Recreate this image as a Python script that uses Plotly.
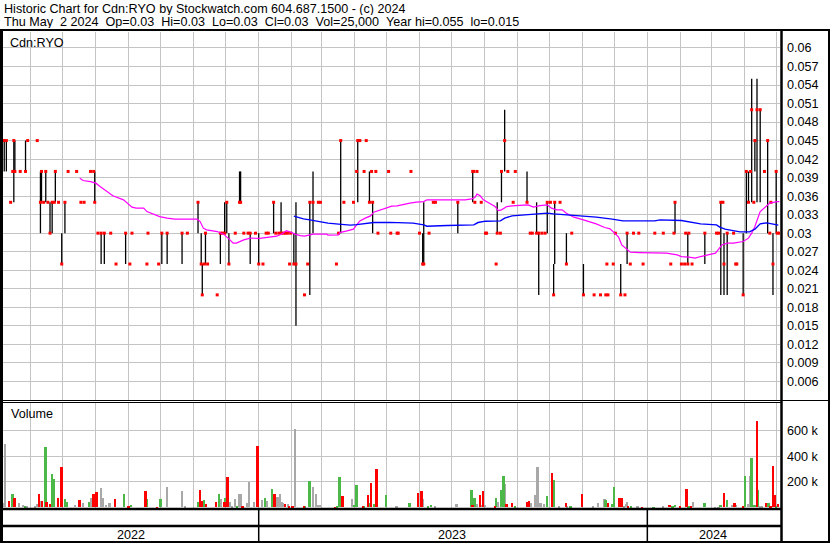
import plotly.graph_objects as go
import pandas as pd

# ---------------- data ----------------
BASE = pd.Timestamp("2022-05-01")   # day offsets below are days after this date

day = [4, 6, 8, 12, 14, 15, 16, 21, 26, 28, 37, 40, 41, 43, 45, 47, 49, 51, 53, 54,
       57, 60, 63, 66, 74, 78, 81, 87, 90, 91, 94, 97, 100, 106, 111, 120, 124, 126, 140, 141,
       151, 154, 159, 173, 178, 188, 191, 192, 194, 195, 197, 206, 209, 211, 213, 215, 217, 223, 227, 228,
       231, 235, 237, 242, 245, 249, 252, 254, 259, 261, 264, 266, 268, 270, 272, 274, 275, 278, 280, 288,
       291, 293, 296, 301, 303, 318, 320, 322, 325, 334, 337, 338, 340, 344, 346, 349, 351, 352, 355, 357,
       367, 369, 375, 376, 388, 396, 399, 400, 405, 409, 411, 432, 446, 447, 448, 450, 454, 458, 459, 468,
       469, 472, 473, 476, 479, 484, 486, 497, 500, 502, 506, 508, 511, 514, 516, 519, 522, 523, 528, 534,
       539, 550, 560, 566, 571, 572, 573, 578, 580, 585, 589, 591, 594, 597, 602, 606, 617, 625, 632, 635,
       636, 642, 645, 646, 648, 649, 652, 664, 675, 677, 679, 681, 682, 685, 691, 693, 694, 700, 703, 705,
       707, 708, 710, 711, 713, 716, 720, 723, 725, 726, 728, 731, 732, 734]
high = [.045, .045, .045, .035, .04, .045, .045, .04, .045, .045, .045, .04, .04, .035, .04, .035, .035, .035, .035, .04,
        .035, .03, .035, .04, .04, .035, .035, .04, .04, .04, .03, .03, .03, .03, .025, .03, .025, .03, .025, .03,
        .025, .03, .03, .03, .03, .035, .03, .025, .025, .03, .025, .02, .03, .03, .035, .035, .03, .03, .04, .04,
        .03, .03, .03, .03, .03, .025, .03, .03, .035, .03, .03, .035, .03, .03, .03, .025, .03, .03, .035, .02,
        .025, .035, .04, .035, .035, .025, .03, .045, .035, .035, .04, .045, .045, .04, .045, .04, .04, .035, .04, .03,
        .04, .03, .03, .03, .04, .03, .03, .035, .03, .035, .035, .035, .04, .04, .035, .04, .035, .03, .03, .025,
        .035, .03, .04, .05, .04, .035, .04, .04, .03, .03, .035, .03, .03, .03, .035, .035, .025, .035, .035, .03,
        .03, .025, .02, .02, .02, .025, .02, .025, .03, .025, .02, .03, .025, .03, .03, .025, .03, .03, .025, .03,
        .035, .025, .025, .03, .03, .03, .025, .03, .03, .03, .035, .035, .03, .03, .03, .025, .025, .03, .04, .04,
        .04, .055, .035, .045, .055, .05, .04, .045, .03, .035, .03, .04, .03, .03]
low = [.045, .04, .04, .035, .04, .035, .04, .04, .04, .045, .045, .03, .035, .035, .035, .035, .03, .03, .035, .035,
       .035, .025, .03, .04, .04, .035, .035, .04, .04, .035, .03, .025, .025, .03, .025, .025, .025, .03, .025, .03,
       .025, .025, .025, .025, .03, .03, .025, .02, .025, .025, .025, .02, .025, .03, .03, .03, .025, .03, .035, .035,
       .03, .03, .025, .03, .025, .025, .03, .03, .03, .03, .03, .03, .03, .03, .03, .025, .03, .025, .015, .02,
       .025, .02, .03, .035, .035, .025, .03, .03, .035, .035, .04, .035, .045, .04, .045, .035, .04, .03, .04, .03,
       .04, .03, .03, .03, .04, .03, .025, .025, .03, .035, .035, .03, .035, .04, .035, .04, .035, .03, .03, .025,
       .03, .03, .035, .04, .04, .035, .04, .035, .03, .03, .03, .02, .03, .03, .03, .035, .02, .025, .035, .025,
       .03, .02, .02, .02, .02, .025, .02, .025, .03, .02, .02, .025, .025, .03, .03, .025, .03, .03, .025, .03,
       .03, .025, .025, .03, .025, .03, .025, .025, .03, .03, .02, .035, .02, .02, .03, .025, .025, .02, .03, .035,
       .04, .035, .035, .04, .035, .035, .04, .03, .03, .035, .02, .03, .03, .03]
close = [.045, .045, .045, .035, .04, .045, .04, .04, .04, .045, .045, .035, .04, .035, .04, .035, .03, .035, .035, .04,
         .035, .025, .035, .04, .04, .035, .035, .04, .04, .035, .03, .03, .03, .03, .025, .03, .025, .03, .025, .03,
         .025, .03, .03, .03, .03, .035, .025, .02, .025, .03, .025, .02, .03, .03, .03, .035, .025, .03, .035, .035,
         .03, .03, .03, .03, .025, .025, .03, .03, .035, .03, .03, .03, .03, .03, .03, .025, .03, .025, .025, .02,
         .025, .035, .035, .035, .035, .025, .03, .045, .035, .035, .04, .045, .045, .04, .045, .035, .04, .035, .04, .03,
         .04, .03, .03, .03, .04, .03, .025, .025, .03, .035, .035, .035, .04, .04, .035, .04, .035, .03, .03, .025,
         .03, .03, .04, .045, .04, .035, .04, .035, .03, .03, .03, .03, .03, .03, .035, .035, .02, .035, .035, .025,
         .03, .02, .02, .02, .02, .025, .02, .025, .03, .02, .02, .03, .025, .03, .03, .025, .03, .03, .025, .03,
         .035, .025, .025, .03, .025, .03, .025, .03, .03, .03, .035, .035, .025, .03, .03, .025, .025, .02, .04, .035,
         .04, .05, .035, .045, .05, .05, .04, .045, .03, .035, .025, .04, .03, .03]

ma50_day = [77, 80, 87, 92, 96, 102, 108, 118, 124, 126, 130, 137, 140, 146, 152, 159, 166, 187, 190, 193,
            196, 206, 212, 218, 221, 224, 231, 237, 246, 253, 262, 267, 271, 276, 279, 284, 288, 293, 296, 309,
            310, 320, 321, 328, 334, 337, 340, 345, 350, 353, 359, 365, 370, 375, 381, 387, 393, 400, 403, 439,
            445, 448, 450, 453, 456, 462, 467, 470, 473, 478, 483, 494, 498, 503, 509, 516, 520, 525, 530, 534,
            541, 550, 562, 570, 575, 580, 583, 586, 591, 594, 603, 617, 628, 638, 642, 649, 655, 660, 667, 674,
            677, 680, 685, 691, 700, 705, 708, 711, 716, 721, 725, 732, 734]
ma50_val = [.0389, .03853, .03836, .0381, .03755, .03686, .03605, .0354, .03459, .03421, .03405, .03405, .0335, .03308, .03269, .03243, .03227, .03227, .03188, .03081,
            .03053, .03026, .02984, .02891, .02838, .02838, .02891, .02919, .02916, .02932, .02951, .02989, .03042, .0301, .02984, .02961, .02951, .02972, .02984, .02984,
            .02968, .02972, .0301, .03037, .03065, .03135, .03199, .03243, .0328, .0334, .03378, .03405, .03438, .03442, .0347, .03486, .03502, .03512, .0354, .0354,
            .03556, .03577, .03632, .03605, .0354, .03486, .03431, .03366, .03378, .03431, .03442, .03454, .03459, .03421, .03447, .03459, .03405, .03378, .03378, .03324,
            .03259, .03216, .03151, .03091, .0307, .02989, .02935, .0281, .02741, .02692, .02686, .02676, .02676, .02648, .02621, .02611, .02595, .02621, .02648, .02676,
            .02741, .0281, .02838, .02838, .02864, .02919, .03, .03107, .0335, .03431, .03486, .03512, .03512]

ma200_day = [278, 282, 287, 293, 303, 310, 320, 331, 337, 346, 353, 368, 390, 400, 403, 422, 447, 451, 458, 472,
             476, 483, 495, 500, 516, 522, 534, 545, 562, 577, 587, 617, 622, 642, 653, 660, 675, 678, 683, 692,
             697, 706, 711, 716, 722, 727, 733]
ma200_val = [.03276, .03253, .03232, .03216, .03178, .03162, .03146, .0313, .03139, .03162, .03172, .03175, .03162, .03135, .03113, .03123, .03135, .03172, .03194, .03199,
             .03243, .0328, .03297, .03313, .03324, .03313, .03297, .0328, .03259, .03227, .03199, .03199, .03216, .03204, .03172, .03151, .03135, .03097, .03065, .03042,
             .03021, .03021, .03065, .03151, .03167, .03151, .0313]

vol_day = [4, 5, 7, 11, 14, 16, 20, 24, 26, 27, 35, 37, 39, 40, 42, 45, 46, 49, 51, 53,
           57, 60, 63, 65, 73, 77, 80, 86, 88, 90, 93, 97, 99, 102, 105, 110, 119, 123, 125, 139,
           140, 150, 153, 159, 173, 176, 188, 190, 192, 194, 196, 205, 208, 210, 213, 214, 216, 218, 220, 223,
           225, 227, 228, 230, 234, 236, 241, 244, 248, 251, 253, 258, 260, 263, 265, 267, 268, 270, 273, 274,
           277, 279, 288, 289, 293, 296, 299, 301, 303, 317, 319, 321, 324, 333, 335, 337, 343, 344, 348, 349,
           351, 354, 356, 365, 374, 375, 387, 395, 398, 399, 404, 407, 411, 431, 445, 446, 448, 450, 453, 454,
           456, 458, 467, 468, 470, 473, 474, 475, 476, 478, 483, 486, 497, 499, 501, 505, 507, 510, 513, 516,
           521, 522, 527, 534, 535, 538, 549, 559, 564, 570, 571, 573, 577, 579, 584, 586, 588, 590, 591, 592,
           595, 601, 605, 616, 625, 631, 634, 636, 641, 647, 649, 651, 653, 664, 674, 677, 679, 682, 685, 690,
           692, 693, 700, 702, 705, 707, 708, 711, 713, 714, 716, 718, 722, 724, 726, 728, 730, 731, 733]
vol_k = [118, 34, 497, 50, 105, 76, 39, 18, 5, 5, 10, 26, 105, 50, 50, 473, 42, 26, 261, 222,
         76, 316, 65, 42, 18, 58, 34, 42, 76, 105, 120, 152, 73, 21, 39, 65, 105, 5, 18, 128,
         65, 3, 65, 159, 128, 10, 42, 136, 50, 58, 26, 42, 105, 65, 42, 76, 238, 42, 10, 65,
         5, 105, 105, 5, 34, 199, 42, 481, 58, 73, 50, 144, 105, 81, 105, 44, 34, 26, 26, 13,
         10, 614, 5, 5, 207, 159, 105, 18, 18, 3, 10, 238, 89, 65, 18, 175, 10, 5, 97, 34,
         191, 26, 301, 97, 5, 5, 34, 113, 128, 65, 10, 18, 10, 26, 136, 18, 73, 26, 97, 18,
         128, 18, 5, 73, 42, 136, 26, 246, 183, 26, 34, 5, 42, 50, 34, 97, 316, 34, 26, 89,
         269, 214, 5, 34, 5, 10, 105, 10, 34, 65, 58, 34, 26, 159, 73, 73, 5, 26, 42, 13,
         5, 10, 3, 3, 10, 18, 10, 18, 10, 144, 5, 5, 42, 34, 3, 3, 18, 113, 58, 18,
         34, 18, 10, 246, 26, 248, 387, 18, 677, 136, 5, 10, 34, 34, 5, 324, 97, 5, 26]
vol_move = ("kkkrgrkkgkkkrkrgrrgg"
            "rrggkrkgkrrkkkkrgrgr"
            "grgkkkgrrgrrgkrgrkkk"
            "gkkrkkkrkgkgrkkkkrkr"
            "rkrggkkkkrggrkggrgrg"
            "rgrgkkgrrkggkkgrgkrk"
            "rkrgkgkgkrrgrrkkkkkg"
            "rgkrkgrkkkgrggrrkkkr"
            "gkrgkrggrrgrkgkkgrgk"
            "rkrgkkggrgkkrgrrrgrk")

price_tick_vals = [0.06, 0.057, 0.054, 0.051, 0.048, 0.045, 0.042, 0.039, 0.036, 0.033,
                   0.03, 0.027, 0.024, 0.021, 0.018, 0.015, 0.012, 0.009, 0.006]
price_tick_text = ["0.06", "0.057", "0.054", "0.051", "0.048", "0.045", "0.042", "0.039", "0.036", "0.033",
                   "0.03", "0.027", "0.024", "0.021", "0.018", "0.015", "0.012", "0.009", "0.006"]
vol_tick_vals = [200000, 400000, 600000]
vol_tick_text = ["200 k", "400 k", "600 k"]
years = ["2022", "2023", "2024"]
year_centres = ["2022-09-03", "2023-07-02", "2024-03-03"]
year_breaks = ["2023-01-01", "2024-01-01"]

title1 = "Historic Chart for Cdn:RYO by Stockwatch.com 604.687.1500 - (c) 2024"
title2 = ("Thu May\u00a0\u00a02 2024\u00a0\u00a0Op=0.03\u00a0\u00a0Hi=0.03\u00a0\u00a0Lo=0.03\u00a0\u00a0"
          "Cl=0.03\u00a0\u00a0Vol=25,000\u00a0\u00a0Year hi=0.055\u00a0\u00a0lo=0.015")

# ---------------- build ----------------
W, H = 830, 543
FONT = "Liberation Sans, Arial, sans-serif"
GRID = "#c4c4c4"
FS = 12.6


def px(x):
    return x / W


def py(y):
    return 1 - y / H


to_date = lambda offs: [BASE + pd.Timedelta(days=d) for d in offs]
dates = to_date(day)

seg_x, seg_y = [], []
for d, h, l in zip(dates, high, low):
    if h > l:
        seg_x += [d, d, None]
        seg_y += [l, h, None]

fig = go.Figure()
fig.add_trace(go.Scatter(x=seg_x, y=seg_y, mode="lines", line=dict(color="black", width=1.3),
                         xaxis="x", yaxis="y", hoverinfo="skip"))
fig.add_trace(go.Scatter(x=dates, y=close, mode="markers",
                         marker=dict(symbol="square", size=3, color="#ff0000", line=dict(width=0)),
                         xaxis="x", yaxis="y"))
fig.add_trace(go.Scatter(x=to_date(ma50_day), y=ma50_val, mode="lines",
                         line=dict(color="#ff00ff", width=1.2), xaxis="x", yaxis="y"))
fig.add_trace(go.Scatter(x=to_date(ma200_day), y=ma200_val, mode="lines",
                         line=dict(color="#0000ff", width=1.4), xaxis="x", yaxis="y"))

vcol = {"g": "#4cb848", "r": "#ff0000", "k": "#a8a8a8"}
vdates = to_date(vol_day)
for code in "kgr":
    xs = [d for d, m in zip(vdates, vol_move) if m == code]
    ys = [v * 1000 for v, m in zip(vol_k, vol_move) if m == code]
    fig.add_trace(go.Bar(x=xs, y=ys, marker=dict(color=vcol[code], line=dict(width=0)),
                         width=1.7 * 86400000, xaxis="x2", yaxis="y2"))

xr = ["2022-05-05 20:10", "2024-05-04 14:24"]
xcommon = dict(type="date", range=xr, domain=[px(3), px(780)], showgrid=True, gridcolor=GRID,
               gridwidth=1, dtick="M1", tick0="2022-01-01", showticklabels=False, ticks="",
               zeroline=False, showline=False, fixedrange=True)
ycommon = dict(side="right", showgrid=True, gridcolor=GRID, ticks="", ticklabelstandoff=6,
               ticklabelposition="outside", zeroline=False, showline=False, automargin=False,
               tickfont=dict(family=FONT, size=FS, color="black"))

fig.update_layout(
    width=W, height=H, margin=dict(l=0, r=0, t=0, b=0, pad=0),
    paper_bgcolor="white", plot_bgcolor="white", showlegend=False, bargap=0,
    font=dict(family=FONT, size=FS, color="black"),
    xaxis=dict(anchor="y", **xcommon),
    xaxis2=dict(anchor="y2", matches="x", **xcommon),
    yaxis=dict(anchor="x", domain=[py(400), py(32)], range=[0.00297, 0.06259],
               tickvals=price_tick_vals, ticktext=price_tick_text, **ycommon),
    yaxis2=dict(anchor="x2", domain=[py(508), py(402)], range=[-4000, 827000],
                tickvals=vol_tick_vals, ticktext=vol_tick_text, **ycommon),
)

shapes = []


def hline(y, x0, x1, w):
    shapes.append(dict(type="line", xref="paper", yref="paper", x0=px(x0), x1=px(x1),
                       y0=py(y), y1=py(y), line=dict(color="black", width=w)))


def vline(x, y0, y1, w):
    shapes.append(dict(type="line", xref="paper", yref="paper", x0=px(x), x1=px(x),
                       y0=py(y0), y1=py(y1), line=dict(color="black", width=w)))


hline(30, 0, 830, 2)
vline(1.5, 30, 543, 3)
vline(781.5, 30, 543, 2.5)
vline(829, 30, 543, 2)
hline(400.5, 0, 830, 1)
hline(402.5, 0, 781, 1)
hline(509, 0, 781, 2.5)
hline(526, 0, 781, 2.5)
hline(542, 0, 830, 2)
for yb in year_breaks:
    shapes.append(dict(type="line", xref="x", yref="paper", x0=yb, x1=yb, y0=py(510), y1=py(542),
                       line=dict(color="black", width=1.5)))
fig.update_layout(shapes=shapes)

ann = [
    dict(text=title1, x=px(2), y=py(8.5), xanchor="left", yanchor="middle", height=13, valign="middle"),
    dict(text=title2, x=px(2), y=py(21.5), xanchor="left", yanchor="middle", height=13, valign="middle"),
    dict(text="Cdn:RYO", x=px(8), y=py(43.5), xanchor="left", yanchor="middle"),
    dict(text="Volume", x=px(9), y=py(413.5), xanchor="left", yanchor="middle"),
]
for a in ann:
    a.update(xref="paper", yref="paper", showarrow=False, font=dict(family=FONT, size=FS, color="black"))
for yt, xc in zip(years, year_centres):
    ann.append(dict(text=yt, x=xc, xref="x", y=py(535), yref="paper", xanchor="center", yanchor="middle",
                    showarrow=False, font=dict(family=FONT, size=FS, color="black")))
fig.update_layout(annotations=ann)

fig.write_html("out.html", config={"displayModeBar": False},
               post_script="document.body.style.margin='0';document.body.style.overflow='hidden';")
